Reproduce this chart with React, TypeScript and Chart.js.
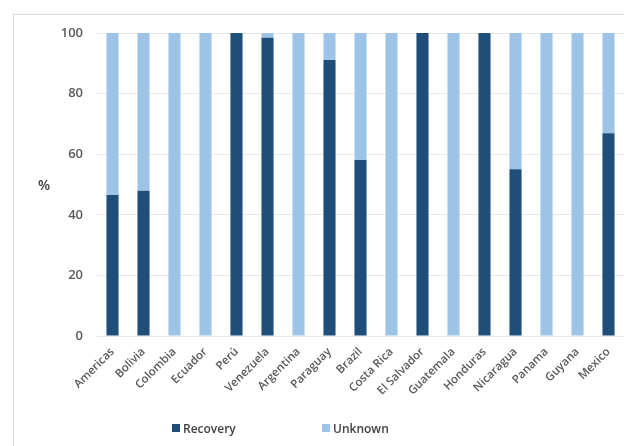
import React, { useEffect, useRef } from "react";
import { Chart, registerables } from "chart.js";

Chart.register(...registerables);

const categories = [
  "Americas", "Bolivia", "Colombia", "Ecuador", "Perú", "Venezuela", "Argentina",
  "Paraguay", "Brazil", "Costa Rica", "El Salvador", "Guatemala", "Honduras",
  "Nicaragua", "Panama", "Guyana", "Mexico",
];
const recovery = [46.5, 47.9, 0, 0, 100, 98.4, 0, 91.1, 58.1, 0, 100, 0, 100, 55, 0, 0, 66.9];
const unknown = [53.5, 52.1, 100, 100, 0, 1.6, 100, 8.9, 41.9, 100, 0, 100, 0, 45, 100, 100, 33.1];
const yTicks = [0, 20, 40, 60, 80, 100];

const DARK = "#1F4E79";
const LIGHT = "#9DC3E6";
const FONT = "'Open Sans', 'Liberation Sans', sans-serif";

// Draws the upright "%" label beside the value axis
const percentLabel = {
  id: "percentLabel",
  afterDraw(chart: any) {
    const { ctx, chartArea } = chart;
    ctx.save();
    ctx.font = `600 14px ${FONT}`;
    ctx.fillStyle = "#404040";
    ctx.textAlign = "center";
    ctx.textBaseline = "middle";
    ctx.fillText("%", 44, (chartArea.top + chartArea.bottom) / 2 + 2);
    ctx.restore();
  },
};

export default function App() {
  const ref = useRef<HTMLCanvasElement | null>(null);

  useEffect(() => {
    if (!ref.current) return;
    const chart = new Chart(ref.current, {
      type: "bar",
      data: {
        labels: categories,
        datasets: [
          { label: "Recovery", data: recovery, backgroundColor: DARK },
          { label: "Unknown", data: unknown, backgroundColor: LIGHT },
        ],
      },
      options: {
        animation: false,
        responsive: false,
        layout: { padding: { top: 33, left: 0, right: 0, bottom: 0 } },
        datasets: { bar: { categoryPercentage: 1, barPercentage: 0.39 } },
        plugins: {
          legend: { display: false },
          tooltip: { enabled: false },
        },
        scales: {
          x: {
            stacked: true,
            grid: { display: false },
            border: { display: false },
            ticks: {
              minRotation: 45,
              maxRotation: 45,
              autoSkip: false,
              padding: 1,
              color: "#595959",
              font: { family: FONT, size: 11.5, weight: "600" },
            },
            afterFit: (s: any) => { s.height = 110; },
          },
          y: {
            stacked: true,
            min: 0,
            max: 100,
            afterBuildTicks: (s: any) => { s.ticks = yTicks.map((v) => ({ value: v })); },
            grid: { color: "#e8e8e8", drawTicks: false },
            border: { display: false },
            ticks: {
              padding: 14,
              color: "#595959",
              font: { family: FONT, size: 13, weight: "600" },
            },
            afterFit: (s: any) => { s.width = 97; },
          },
        },
      },
      plugins: [percentLabel],
    });
    return () => chart.destroy();
  }, []);

  const legendItem = (color: string, text: string, left: number) => (
    <div style={{ position: "absolute", left, top: 419, display: "flex", alignItems: "center", height: 18 }}>
      <span style={{ width: 8, height: 8, background: color, display: "inline-block", marginRight: 3 }} />
      <span style={{ font: `600 12px ${FONT}`, color: "#404040" }}>{text}</span>
    </div>
  );

  return (
    <div style={{ position: "fixed", left: 0, top: 0, width: 624, height: 446, overflow: "hidden", background: "#fff" }}>
      <div style={{ position: "absolute", left: 13, top: 14, width: 700, height: 500, borderLeft: "1px solid #d9d9d9", borderTop: "1px solid #d9d9d9" }} />
      <canvas ref={ref} width={624} height={446} style={{ position: "absolute", left: 0, top: 0 }} />
      {legendItem(DARK, "Recovery", 172)}
      {legendItem(LIGHT, "Unknown", 322)}
    </div>
  );
}
